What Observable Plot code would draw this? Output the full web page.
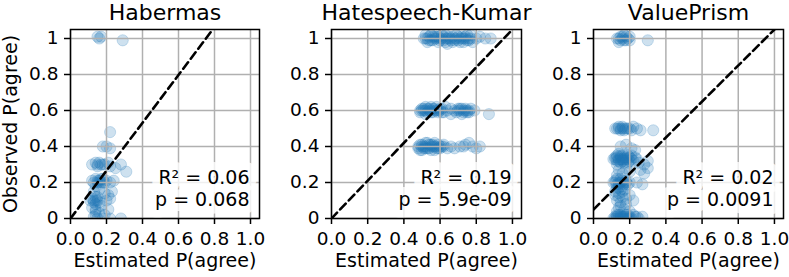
<!DOCTYPE html>
<html>
<head>
<meta charset="utf-8">
<script src="https://cdn.jsdelivr.net/npm/d3@7"></script>
<script src="https://cdn.jsdelivr.net/npm/@observablehq/plot@0.6"></script>
<style>
  body { margin: 0; background: white; }
  #wrap { position: relative; width: 789px; height: 277px; background: white; }
  #wrap > svg { position: absolute; top: 0; }
</style>
</head>
<body>
<div id="wrap"></div>
<script>
// ---- data ----
const titles = ["Habermas", "Hatespeech-Kumar", "ValuePrism"];
const r2Labels = ["R² = 0.06", "R² = 0.19", "R² = 0.02"];
const pLabels = ["p = 0.068", "p = 5.9e-09", "p = 0.0091"];
const xTicks = [0, 0.2, 0.4, 0.6, 0.8, 1.0];
const xTickLabels = ["0.0", "0.2", "0.4", "0.6", "0.8", "1.0"];
const yTicks = [0, 0.2, 0.4, 0.6, 0.8, 1.0];
const yTickLabels = ["0", "0.2", "0.4", "0.6", "0.8", "1"];
const xLabel = "Estimated P(agree)";
const yLabel = "Observed P(agree)";

// dashed reference lines [x, y] endpoints per panel
const habermasLine = [[0, 0], [0.79, 1.05]];
const kumarLine = [[0, 0], [1.0, 1.05]];
const valuePrismLine = [[0, 0.05], [1.0, 1.05]];

// points [estimated, observed]
const habermas = [
  [0.15,1.01],[0.16,1.0],[0.17,1.01],[0.29,0.99],
  [0.22,0.48],
  [0.18,0.4],[0.2,0.4],[0.22,0.39],
  [0.12,0.3],[0.14,0.31],[0.15,0.29],[0.17,0.3],[0.19,0.3],[0.21,0.31],[0.22,0.29],[0.28,0.3],[0.31,0.26],[0.25,0.28],
  [0.15,0.3],[0.16,0.31],[0.18,0.3],
  [0.12,0.21],[0.13,0.2],[0.14,0.22],[0.15,0.2],[0.16,0.21],[0.17,0.2],[0.18,0.22],[0.19,0.2],[0.2,0.21],[0.22,0.2],[0.24,0.21],[0.14,0.18],
  [0.15,0.21],[0.16,0.2],[0.17,0.22],[0.18,0.2],
  [0.13,0.15],[0.16,0.16],[0.23,0.15],[0.19,0.14],[0.21,0.13],
  [0.11,0.1],[0.12,0.11],[0.13,0.09],[0.14,0.1],[0.15,0.12],[0.16,0.09],[0.2,0.1],[0.22,0.11],
  [0.13,0.1],[0.14,0.12],[0.15,0.1],[0.14,0.08],
  [0.12,0.06],[0.14,0.05],[0.17,0.07],[0.21,0.05],[0.14,0.04],
  [0.14,0.02],[0.16,0.03],[0.19,0.02],[0.13,0.01],
  [0.15,0.0],[0.18,0.0],[0.22,0.0],[0.28,0.0]
];

const kumar = [
  // row 1.0
  [0.52,1.0],[0.53,0.98],[0.54,1.01],[0.55,1.02],[0.56,0.99],[0.57,1.0],[0.58,1.01],[0.59,0.98],
  [0.60,1.0],[0.61,1.02],[0.62,0.99],[0.63,1.0],[0.64,0.97],[0.65,1.01],[0.66,1.0],[0.67,0.98],
  [0.68,1.0],[0.69,1.02],[0.70,0.99],[0.71,1.0],[0.72,1.01],[0.73,0.98],[0.74,1.0],[0.75,1.02],
  [0.76,0.99],[0.77,1.0],[0.78,0.98],[0.80,1.0],[0.82,1.01],[0.85,1.0],[0.88,1.0],
  [0.53,1.0],[0.55,0.99],[0.58,1.0],[0.62,1.01],[0.66,0.99],[0.70,1.01],[0.73,1.0],[0.75,0.99],[0.56,1.01],[0.64,1.0],
  [0.51,1.0],[0.54,0.99],[0.57,1.01],[0.6,0.99],[0.61,1.0],[0.63,0.98],[0.65,1.0],[0.67,1.01],[0.68,0.99],
  [0.69,1.0],[0.71,0.98],[0.72,1.0],[0.74,1.01],[0.76,1.0],[0.77,1.02],[0.52,1.02],[0.59,1.01],[0.63,1.02],
  // row 0.6
  [0.49,0.59],[0.50,0.61],[0.51,0.6],[0.52,0.58],[0.53,0.61],[0.54,0.6],[0.55,0.59],[0.56,0.61],
  [0.57,0.6],[0.58,0.62],[0.59,0.59],[0.60,0.6],[0.61,0.61],[0.62,0.59],[0.64,0.6],[0.66,0.61],
  [0.68,0.6],[0.69,0.59],[0.70,0.61],[0.71,0.6],[0.72,0.58],[0.73,0.6],[0.74,0.61],[0.75,0.59],
  [0.76,0.6],[0.77,0.61],[0.79,0.6],[0.87,0.58],
  [0.50,0.6],[0.52,0.6],[0.54,0.61],[0.56,0.59],[0.58,0.6],[0.71,0.61],[0.73,0.59],[0.75,0.6],
  [0.49,0.6],[0.51,0.61],[0.53,0.59],[0.55,0.6],[0.57,0.61],[0.59,0.6],[0.6,0.61],[0.61,0.59],
  [0.7,0.6],[0.72,0.61],[0.74,0.6],[0.76,0.59],[0.52,0.62],[0.55,0.62],[0.66,0.58],[0.63,0.62],
  // row 0.4
  [0.48,0.4],[0.49,0.38],[0.50,0.41],[0.51,0.39],[0.52,0.4],[0.53,0.42],[0.54,0.39],[0.55,0.4],
  [0.56,0.41],[0.57,0.38],[0.58,0.4],[0.59,0.41],[0.60,0.39],[0.61,0.4],[0.62,0.41],[0.64,0.39],
  [0.66,0.4],[0.71,0.4],[0.74,0.41],[0.76,0.42],[0.78,0.4],[0.80,0.39],[0.82,0.4],
  [0.49,0.41],[0.51,0.4],[0.53,0.39],[0.55,0.41],[0.57,0.4],[0.59,0.39],
  [0.48,0.39],[0.5,0.4],[0.52,0.39],[0.54,0.41],[0.56,0.4],[0.58,0.39],[0.6,0.4],[0.5,0.38],
  [0.52,0.42],[0.55,0.38],[0.57,0.42],[0.62,0.4],[0.68,0.39],[0.73,0.4]
];

const valuePrism = [
  // 1.0
  [0.13,1.0],[0.14,0.98],[0.15,1.01],[0.16,1.0],[0.17,0.99],[0.18,1.01],[0.19,1.0],[0.2,0.99],[0.15,0.99],[0.17,1.02],[0.3,0.99],
  [0.14,1.0],[0.16,1.01],[0.18,0.99],[0.2,1.01],
  // 0.5
  [0.12,0.5],[0.13,0.5],[0.14,0.51],[0.15,0.5],[0.16,0.5],[0.17,0.49],[0.18,0.5],[0.2,0.5],[0.22,0.51],[0.24,0.5],[0.26,0.49],[0.33,0.49],
  [0.14,0.5],[0.15,0.49],[0.16,0.51],[0.17,0.5],[0.19,0.5],[0.21,0.49],
  // 0.4
  [0.15,0.4],[0.18,0.41],[0.21,0.39],[0.23,0.38],
  // 0.33
  [0.11,0.33],[0.12,0.34],[0.13,0.32],[0.14,0.33],[0.15,0.34],[0.15,0.31],[0.16,0.33],[0.17,0.34],
  [0.17,0.32],[0.18,0.33],[0.19,0.31],[0.2,0.34],[0.21,0.33],[0.22,0.32],[0.24,0.33],[0.25,0.31],
  [0.13,0.3],[0.16,0.35],[0.19,0.33],[0.14,0.36],
  [0.12,0.33],[0.13,0.34],[0.14,0.32],[0.15,0.33],[0.16,0.32],[0.17,0.33],[0.18,0.34],[0.19,0.35],
  [0.2,0.32],[0.13,0.35],[0.15,0.35],[0.17,0.31],[0.21,0.35],[0.23,0.34],
  [0.28,0.3],[0.3,0.32],[0.26,0.27],[0.28,0.25],[0.3,0.28],
  [0.14,0.27],[0.16,0.25],[0.18,0.28],[0.13,0.24],[0.2,0.26],
  // 0.2 and below
  [0.11,0.2],[0.12,0.21],[0.13,0.19],[0.14,0.2],[0.15,0.22],[0.16,0.18],[0.17,0.2],[0.18,0.21],
  [0.19,0.19],[0.2,0.2],[0.24,0.2],[0.27,0.19],[0.14,0.17],[0.17,0.16],
  [0.12,0.2],[0.13,0.22],[0.14,0.19],[0.15,0.2],[0.16,0.21],[0.17,0.19],[0.18,0.2],
  [0.13,0.17],[0.15,0.16],[0.12,0.15],[0.14,0.12],[0.16,0.15],
  [0.12,0.13],[0.14,0.14],[0.16,0.12],[0.18,0.11],[0.2,0.13],[0.13,0.1],[0.15,0.09],[0.22,0.1],
  [0.14,0.06],[0.17,0.05],[0.2,0.04],[0.15,0.07],[0.18,0.08],[0.13,0.04],
  // 0.0
  [0.11,0.0],[0.12,0.01],[0.13,0.0],[0.14,0.02],[0.15,0.0],[0.16,0.01],[0.17,0.0],[0.18,0.02],
  [0.19,0.0],[0.2,0.01],[0.21,0.0],[0.23,0.01],[0.25,0.0],[0.27,0.01],[0.15,0.01],[0.18,0.0],
  [0.12,0.0],[0.13,0.02],[0.14,0.0],[0.15,0.02],[0.16,0.0],[0.17,0.01],[0.19,0.02],[0.2,0.0],
  [0.22,0.02],[0.24,0.01],[0.13,0.01],[0.18,0.01]
];

// ---- layout ----
const panels = [
  {data: habermas, line: habermasLine, left: 0, ml: 70, mr: 4, ylab: true},
  {data: kumar, line: kumarLine, left: 263, ml: 68, mr: 5, ylab: false},
  {data: valuePrism, line: valuePrismLine, left: 526, ml: 67, mr: 6, ylab: false}
];
const blue = "#1f77b4";
const font = "DejaVu Sans";
const wrap = document.getElementById("wrap");

panels.forEach((p, i) => {
  const marks = [
    Plot.dot(p.data, {x: d => d[0], y: d => d[1], r: 5.6, fill: blue, fillOpacity: 0.22,
      stroke: blue, strokeOpacity: 0.22, strokeWidth: 1, clip: true}),
    Plot.gridX(xTicks, {stroke: "#b0b0b0", strokeOpacity: 1, strokeWidth: 1.5}),
    Plot.gridY(yTicks, {stroke: "#b0b0b0", strokeOpacity: 1, strokeWidth: 1.5}),
    Plot.line(p.line, {x: d => d[0], y: d => d[1], stroke: "black", strokeWidth: 2.6,
      strokeDasharray: "8,4.5", clip: true}),
    // halo boxes behind annotation
    Plot.text([r2Labels[i]], {frameAnchor: "bottom-right", textAnchor: "end", dx: -10, dy: -35,
      fontSize: 19, fill: "white", stroke: "white", strokeWidth: 16, strokeLinejoin: "round", opacity: 0.8}),
    Plot.text([pLabels[i]], {frameAnchor: "bottom-right", textAnchor: "end", dx: -10, dy: -13,
      fontSize: 19, fill: "white", stroke: "white", strokeWidth: 16, strokeLinejoin: "round", opacity: 0.8}),
    Plot.text([r2Labels[i]], {frameAnchor: "bottom-right", textAnchor: "end", dx: -10, dy: -35,
      fontSize: 19, fill: "black"}),
    Plot.text([pLabels[i]], {frameAnchor: "bottom-right", textAnchor: "end", dx: -10, dy: -13,
      fontSize: 19, fill: "black"}),
    Plot.frame({stroke: "black", strokeWidth: 1.5}),
    Plot.axisX(xTicks, {tickFormat: (d, k) => xTickLabels[k], tickSize: 6, tickPadding: 7,
      fontSize: 18.5, label: null, strokeWidth: 1.5}),
    Plot.axisY(yTicks, {tickFormat: (d, k) => yTickLabels[k], tickSize: 6, tickPadding: 6,
      fontSize: 18.5, label: null, strokeWidth: 1.5}),
    Plot.text([titles[i]], {frameAnchor: "top", dy: -25, fontSize: 22, fill: "black"}),
    Plot.text([xLabel], {frameAnchor: "bottom", dy: 48, fontSize: 19, fill: "black"})
  ];
  if (p.ylab) {
    marks.push(Plot.text([yLabel], {frameAnchor: "left", textAnchor: "middle", dx: -60, rotate: -90,
      fontSize: 19, fill: "black"}));
  }
  const svg = Plot.plot({
    width: 263,
    height: 277,
    marginLeft: p.ml,
    marginRight: p.mr,
    marginTop: 29,
    marginBottom: 59,
    x: {domain: [0, 1.05]},
    y: {domain: [0, 1.05]},
    style: {fontFamily: font, fontSize: "17px", color: "black", background: "none", overflow: "visible"},
    marks
  });
  svg.style.left = p.left + "px";
  wrap.appendChild(svg);
});
</script>
</body>
</html>
